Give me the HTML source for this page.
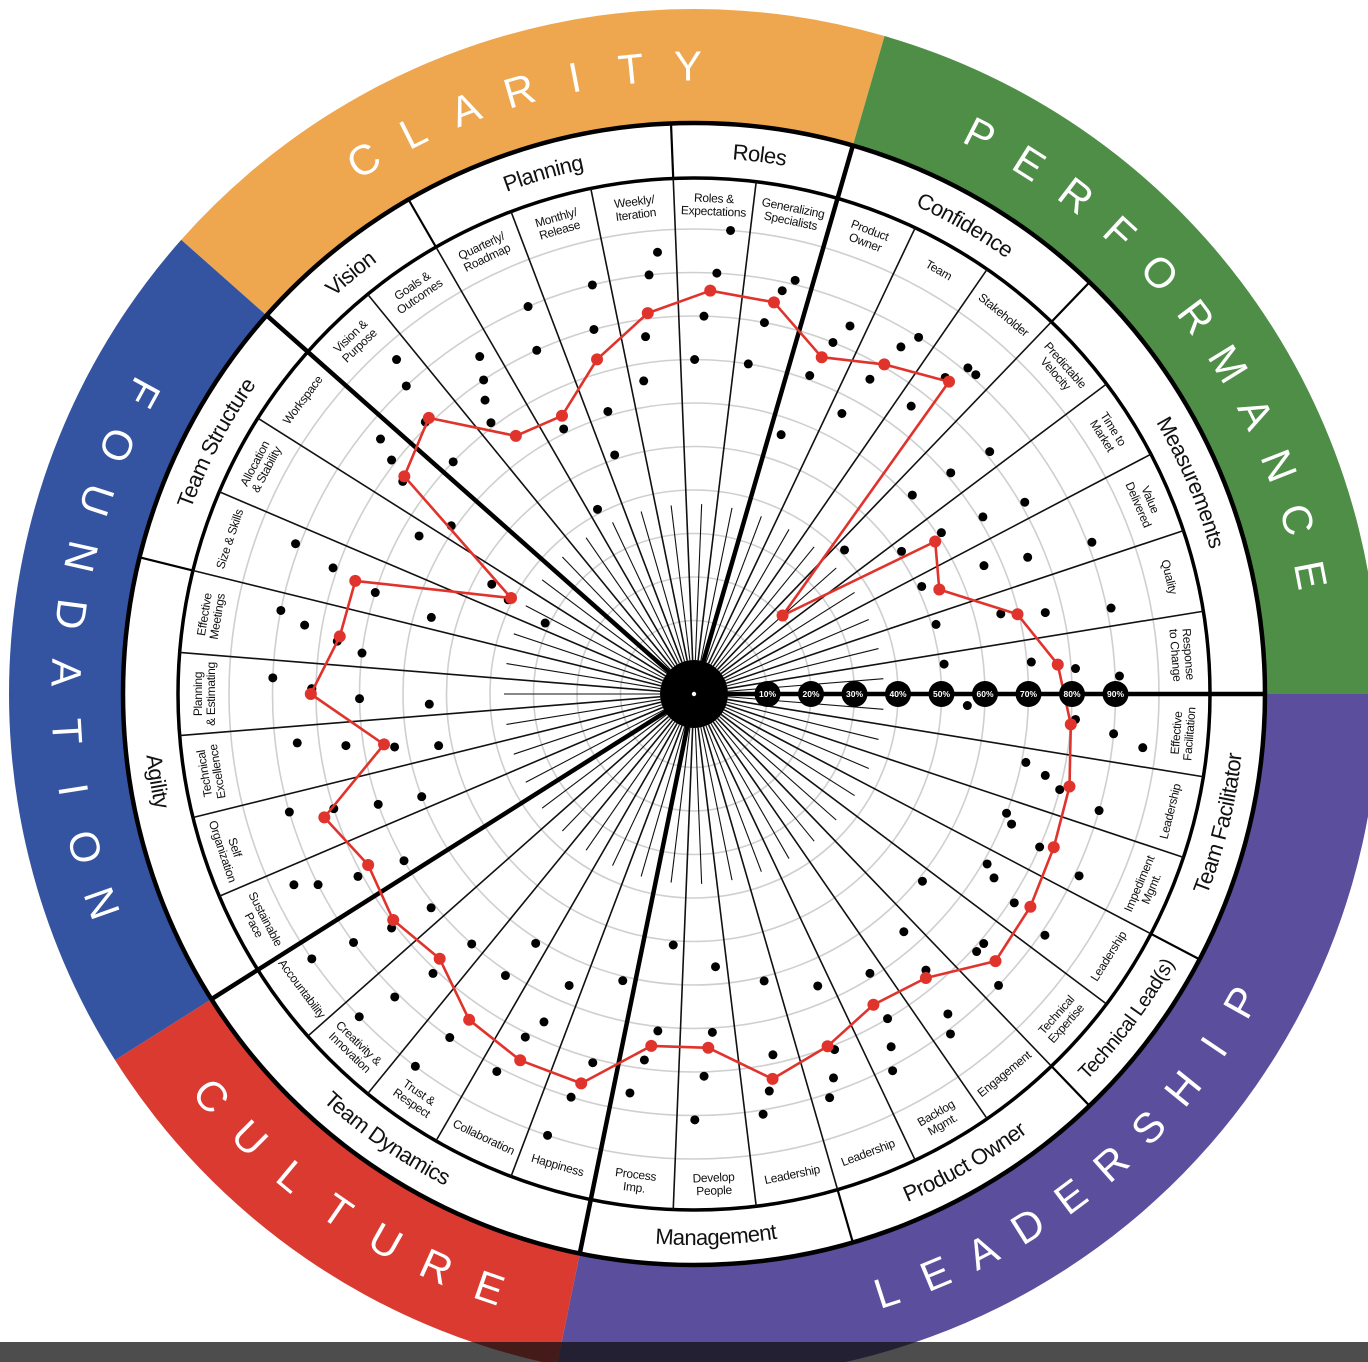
<!DOCTYPE html>
<html><head><meta charset="utf-8"><title>Team Health Radar</title>
<style>
html,body{margin:0;padding:0;background:#fff;}
#wrap{position:relative;width:1368px;height:1362px;overflow:hidden;background:#fff;}
svg{display:block;}
.ring-letter{font-family:"Liberation Sans",sans-serif;font-size:42px;fill:#fff;}
.cat-label{font-family:"Liberation Sans Narrow","Liberation Sans",sans-serif;font-size:22px;fill:#111;letter-spacing:-0.6px;}
.sub-label{font-family:"Liberation Sans Narrow","Liberation Sans",sans-serif;font-size:12px;fill:#111;letter-spacing:-0.3px;}
.pct-label{font-family:"Liberation Sans",sans-serif;font-size:8.5px;font-weight:bold;fill:#fff;}
</style></head>
<body>
<div id="wrap">
<svg id="chart" width="1368" height="1362" viewBox="0 0 1368 1362">
  <g id="g-ring"></g>
  <g id="g-grid"></g>
  <g id="g-spokes"></g>
  <g id="g-labels"></g>
  <g id="g-dots"></g>
  <g id="g-red"></g>
  <g id="g-center"></g>
  <rect x="0" y="1342" width="1368" height="20" fill="#111" fill-opacity="0.75"></rect>
</svg>
</div>
<script>
// ---------- data ----------
const subcategories = ["Effective|Facilitation","Leadership","Impediment|Mgmt.","Leadership","Technical|Expertise","Engagement","Backlog|Mgmt.","Leadership","Leadership","Develop|People","Process|Imp.","Happiness","Collaboration","Trust &|Respect","Creativity &|Innovation","Accountability","Sustainable|Pace","Self|Organization","Technical|Excellence","Planning|& Estimating","Effective|Meetings","Size & Skills","Allocation|& Stability","Workspace","Vision &|Purpose","Goals &|Outcomes","Quarterly/|Roadmap","Monthly/|Release","Weekly/|Iteration","Roles &|Expectations","Generalizing|Specialists","Product|Owner","Team","Stakeholder","Predictable|Velocity","Time to|Market","Value|Delivered","Quality","Response|to Change"];
const averageValues = [80,82,83,84.6,85.7,77.4,75.6,79.7,83.4,74.5,74.6,86.3,86.3,84.1,77.5,79.6,77.7,82.7,65.3,81.2,75.6,75.2,40.6,76.4,81.1,65.2,63.9,73.2,81.3,85.9,85,75.9,80.6,85.8,20.3,58.7,54.4,69.7,77];
const teamA = [56,71,70,71,61,66,69,66,61,56,51,61,66,61,70,71,70,60,53,54,70,56,31,61,70,71,41,51,66,70,70,56,66,76,41,51,51,51,51];
const teamB = [81,76,72,74,81,76,80,81,78,71,71,81,76,71,81,81,81,70,63,70,76,70,41,76,81,76,61,61,76,80,80,71,76,86,61,61,66,66,71];
const teamC = [90,80,80,81,81,87,86,87,86,81,78,90,81,90,91,90,90,80,74,81,84,81,46,81,90,80,80,80,90,90,88,80,86,91,71,71,76,76,81];
const teamD = [97,90,91,91,90,91,91,91,91,91,86,100,91,100,100,100,95,90,85,90,90,91,66,86,96,85,90,90,95,100,91,85,90,91,81,81,91,91,91];
const scaleTicks = [10,20,30,40,50,60,70,80,90];
const gridLevels = [10,20,30,40,50,60,70,80,90,100];
const mainNames = ["LEADERSHIP","CULTURE","FOUNDATION","CLARITY","PERFORMANCE"];
const mainStarts = [0,11,16,24,31];
const mainEnds = [11,16,24,31,39];
const catNames = ["Team Facilitator","Technical Lead(s)","Product Owner","Management","Team Dynamics","Agility","Team Structure","Vision","Planning","Roles","Confidence","Measurements"];
const catStarts = [0,3,5,8,11,16,21,24,26,29,31,34];
const catEnds = [3,5,8,11,16,21,24,26,29,31,34,39];

// ---------- axes ----------
const cx = 694, cy = 694;
const N = subcategories.length, STEP = 360 / N;
const R_OUT = 685, R_RING_IN = 571, R_CAT_IN = 516, R_DISC = 34;
const mainColors = ["#5b4e9c","#db3a31","#3454a1","#eea74f","#4e8e47"];
function rScale(p){ return 30 + 4.35 * p; }
function angleOf(i){ return (i + 0.5) * STEP; }
function boundaryAngle(i){ return i * STEP; }
function pol(r, deg){ const a = deg * Math.PI / 180; return [cx + r * Math.cos(a), cy + r * Math.sin(a)]; }
const NS = "http://www.w3.org/2000/svg";
function mk(tag, parent, attrs){ const e = document.createElementNS(NS, tag); for (const k in attrs) e.setAttribute(k, attrs[k]); parent.appendChild(e); return e; }
function bottomHalf(a){ a = ((a % 360) + 360) % 360; return a > 0 && a < 180; }

// ---------- outer ring ----------
const gRing = document.getElementById('g-ring');
for (let m = 0; m < mainNames.length; m++) {
  const a1 = boundaryAngle(mainStarts[m]), a2 = boundaryAngle(mainEnds[m]);
  const large = (a2 - a1) > 180 ? 1 : 0;
  const p1 = pol(R_OUT, a1), p2 = pol(R_OUT, a2), p3 = pol(R_RING_IN, a2), p4 = pol(R_RING_IN, a1);
  const seg = mk('path', gRing, {d:`M${p1[0]},${p1[1]} A${R_OUT},${R_OUT} 0 ${large} 1 ${p2[0]},${p2[1]} L${p3[0]},${p3[1]} A${R_RING_IN},${R_RING_IN} 0 ${large} 0 ${p4[0]},${p4[1]} Z`, fill: mainColors[m]});
  
  
  const name = mainNames[m];
  const mid = (a1 + a2) / 2;
  const per = name === "FOUNDATION" ? 5.35 : (name === "LEADERSHIP" ? 4.75 : 5.2);
  const ccw = bottomHalf(mid) || name === "FOUNDATION";
  const n = name.length;
  for (let k = 0; k < n; k++) {
    const off = (k - (n - 1) / 2) * per;
    const ang = ccw ? mid - off : mid + off;
    const p = pol(628, ang);
    const rot = ccw ? ang - 90 : ang + 90;
    const t = mk('text', gRing, {x:0, y:0, class:'ring-letter', 'text-anchor':'middle', 'dominant-baseline':'central', transform:`translate(${p[0]},${p[1]}) rotate(${rot})`});
    t.textContent = name[k];
    
    
  }
}
const disc = mk('circle', gRing, {cx:cx, cy:cy, r:R_RING_IN, fill:'#fff', stroke:'#000', 'stroke-width':4.5});



// ---------- grid circles ----------
const gGrid = document.getElementById('g-grid');
gridLevels.forEach(v => {
  const c = mk('circle', gGrid, {cx:cx, cy:cy, r:rScale(v), fill:'none', stroke:'#cfcfcf', 'stroke-width':1.6});
  
  
});
const catCircle = mk('circle', gGrid, {cx:cx, cy:cy, r:R_CAT_IN, fill:'none', stroke:'#000', 'stroke-width':3.5});



// ---------- spokes ----------
const gSp = document.getElementById('g-spokes');
for (let i = 0; i < N; i++) {
  const a = boundaryAngle(i);
  const p1 = pol(R_DISC, a), p2 = pol(R_CAT_IN, a);
  const l = mk('line', gSp, {x1:p1[0], y1:p1[1], x2:p2[0], y2:p2[1], stroke:'#111', 'stroke-width':1.6});
  
  
  const am = angleOf(i);
  const q1 = pol(R_DISC, am), q2 = pol(190, am);
  const lm = mk('line', gSp, {x1:q1[0], y1:q1[1], x2:q2[0], y2:q2[1], stroke:'#111', 'stroke-width':1.1});
  
  
}
catStarts.forEach(s => {
  const a = boundaryAngle(s);
  const p1 = pol(R_CAT_IN, a), p2 = pol(R_RING_IN, a);
  const l = mk('line', gSp, {x1:p1[0], y1:p1[1], x2:p2[0], y2:p2[1], stroke:'#000', 'stroke-width':2.2});
  
  
});
mainStarts.forEach(s => {
  const a = boundaryAngle(s);
  const p2 = pol(R_RING_IN, a);
  const l = mk('line', gSp, {x1:cx, y1:cy, x2:p2[0], y2:p2[1], stroke:'#000', 'stroke-width':4.5});
  
  
});

// ---------- labels ----------
const gLab = document.getElementById('g-labels');
const defs = mk('defs', gLab, {});
catNames.forEach((name, c) => {
  const mid = (boundaryAngle(catStarts[c]) + boundaryAngle(catEnds[c])) / 2;
  const ccw = bottomHalf(mid);
  const rb = ccw ? 551 : 536;
  const a1 = mid - 60, a2 = mid + 60;
  let d;
  if (!ccw) { const p1 = pol(rb, a1), p2 = pol(rb, a2); d = `M${p1[0]},${p1[1]} A${rb},${rb} 0 0 1 ${p2[0]},${p2[1]}`; }
  else { const p1 = pol(rb, a2), p2 = pol(rb, a1); d = `M${p1[0]},${p1[1]} A${rb},${rb} 0 0 0 ${p2[0]},${p2[1]}`; }
  mk('path', defs, {id:'catpath' + c, d:d});
  const t = mk('text', gLab, {class:'cat-label'});
  if (name === "Technical Lead(s)") t.setAttribute('style', 'font-size:20px');
  
  
  const tp = mk('textPath', t, {href:'#catpath' + c, startOffset:'50%', 'text-anchor':'middle'});
  tp.textContent = name;
});
subcategories.forEach((s, i) => {
  const a = angleOf(i);
  const p = pol(490, a);
  const inward = a < 170;
  const rot = inward ? a - 90 : a + 90;
  const parts = s.split('|');
  const t = mk('text', gLab, {class:'sub-label', 'text-anchor':'middle', transform:`translate(${p[0]},${p[1]}) rotate(${rot})`});
  
  
  parts.forEach((line, j) => {
    const ts = mk('tspan', t, {x:0, y:(j - (parts.length - 1) / 2) * 13 + 4.5});
    ts.textContent = line;
  });
});

// ---------- team dots ----------
const gDots = document.getElementById('g-dots');
const teams = [teamA, teamB, teamC, teamD];
const teamOffsets = [-2.2, -0.8, 0.8, 2.2];
teams.forEach((arr, t) => {
  arr.forEach((v, i) => {
    const p = pol(rScale(v), angleOf(i) + teamOffsets[t]);
    const c = mk('circle', gDots, {cx:p[0], cy:p[1], r:4.5, fill:'#000'});
    
    
  });
});

// ---------- average line ----------
const gRed = document.getElementById('g-red');
const pts = averageValues.map((v, i) => pol(rScale(v), angleOf(i)));
const poly = mk('polygon', gRed, {points: pts.map(p => p[0].toFixed(1) + ',' + p[1].toFixed(1)).join(' '), fill:'none', stroke:'#e0332c', 'stroke-width':2.6, 'stroke-linejoin':'round'});


pts.forEach(p => {
  const c = mk('circle', gRed, {cx:p[0], cy:p[1], r:6, fill:'#e0332c'});
  
  
});

// ---------- center + scale ----------
const gC = document.getElementById('g-center');
const cd = mk('circle', gC, {cx:cx, cy:cy, r:R_DISC, fill:'#000'});


const cdot = mk('circle', gC, {cx:cx, cy:cy, r:2.2, fill:'#fff'});


scaleTicks.forEach(v => {
  const p = pol(rScale(v), 0);
  const c = mk('circle', gC, {cx:p[0], cy:p[1], r:13, fill:'#000'});
  
  
  const t = mk('text', gC, {x:p[0], y:p[1] + 3, class:'pct-label', 'text-anchor':'middle'});
  t.textContent = v + '%';
  
  
});
</script>
</body></html>
